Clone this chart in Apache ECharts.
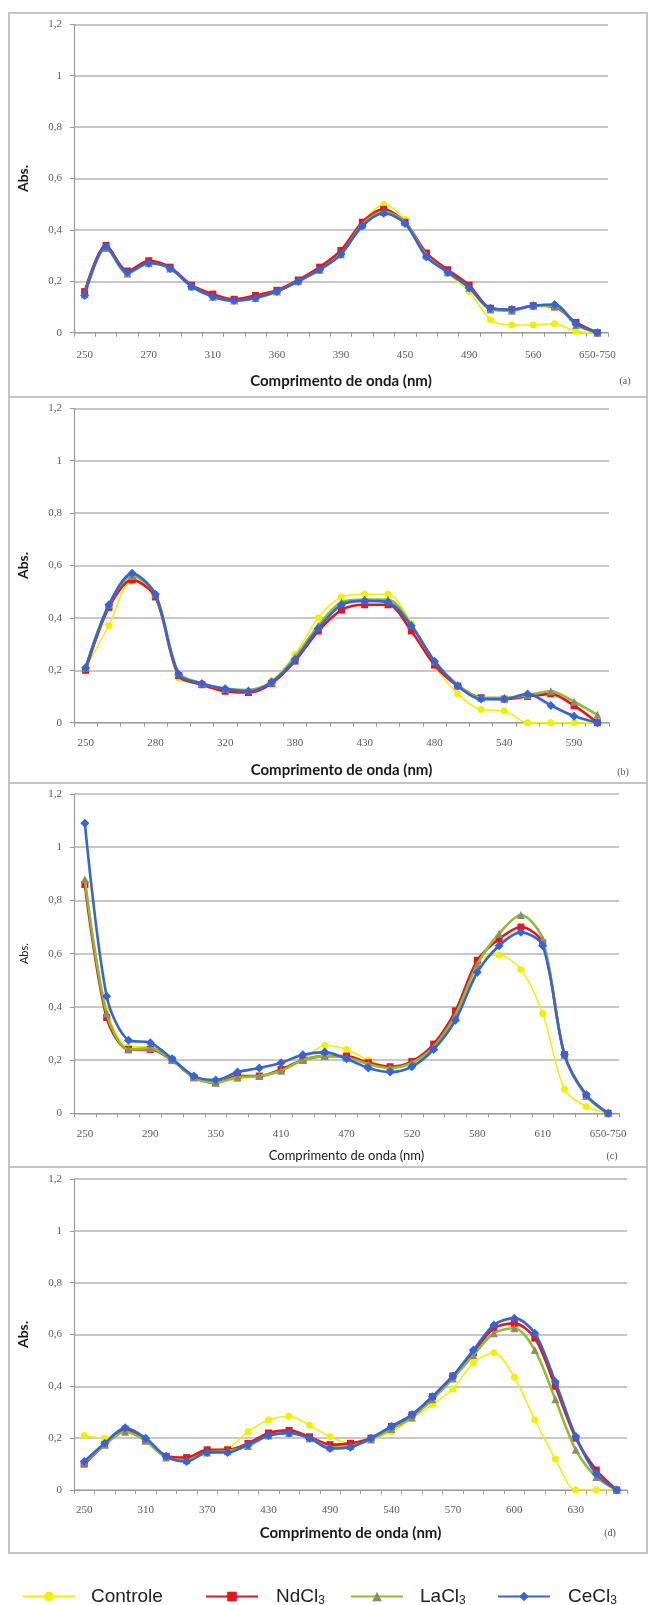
<!DOCTYPE html>
<html>
<head>
<meta charset="utf-8">
<script src="https://cdn.jsdelivr.net/npm/echarts@6/dist/echarts.min.js"></script>
<style>
  html, body { margin: 0; padding: 0; background: #ffffff; }
  #chart { width: 649px; height: 1605px; }
</style>
</head>
<body>
<div id="chart"></div>
<script>
// Absorbance spectra (Abs.) against wavelength (nm) for four treatments, panels (a)-(d)
const seriesNames = ['Controle', 'NdCl3', 'LaCl3', 'CeCl3'];

// Panel (a) - 25 wavelength steps, one label every third step
const ticksA = ['250', '270', '310', '360', '390', '450', '490', '560', '650-750'];
const ctrlA = [0.15, 0.33, 0.23, 0.27, 0.25, 0.18, 0.14, 0.13, 0.14, 0.16, 0.20, 0.25, 0.32, 0.43, 0.50, 0.44, 0.30, 0.23, 0.16, 0.05, 0.03, 0.03, 0.035, 0.005, 0.0];
const ndA   = [0.16, 0.34, 0.24, 0.28, 0.255, 0.185, 0.15, 0.13, 0.145, 0.165, 0.205, 0.255, 0.32, 0.43, 0.48, 0.43, 0.31, 0.245, 0.185, 0.095, 0.09, 0.105, 0.10, 0.04, 0.0];
const laA   = [0.15, 0.33, 0.23, 0.27, 0.25, 0.18, 0.14, 0.125, 0.135, 0.16, 0.20, 0.245, 0.305, 0.42, 0.47, 0.43, 0.30, 0.235, 0.175, 0.09, 0.085, 0.105, 0.105, 0.03, 0.0];
const ceA   = [0.145, 0.335, 0.235, 0.27, 0.25, 0.18, 0.14, 0.125, 0.135, 0.16, 0.20, 0.245, 0.305, 0.415, 0.465, 0.425, 0.295, 0.235, 0.175, 0.095, 0.09, 0.105, 0.11, 0.035, 0.0];

// Panel (b) - 23 wavelength steps
const ticksB = ['250', '280', '320', '380', '430', '480', '540', '590'];
const ctrlB = [0.21, 0.37, 0.54, 0.49, 0.17, 0.15, 0.13, 0.12, 0.16, 0.26, 0.40, 0.48, 0.49, 0.49, 0.38, 0.22, 0.11, 0.05, 0.045, 0.0, 0.0, 0.0, 0.0];
const ndB   = [0.20, 0.44, 0.545, 0.48, 0.18, 0.145, 0.12, 0.115, 0.15, 0.235, 0.35, 0.43, 0.45, 0.45, 0.35, 0.22, 0.14, 0.095, 0.09, 0.10, 0.11, 0.065, 0.0];
const laB   = [0.21, 0.45, 0.56, 0.49, 0.19, 0.15, 0.13, 0.125, 0.155, 0.25, 0.37, 0.46, 0.47, 0.47, 0.375, 0.235, 0.145, 0.095, 0.095, 0.105, 0.12, 0.08, 0.03];
const ceB   = [0.21, 0.45, 0.57, 0.49, 0.185, 0.15, 0.13, 0.12, 0.155, 0.24, 0.36, 0.45, 0.465, 0.46, 0.37, 0.235, 0.14, 0.09, 0.09, 0.11, 0.066, 0.025, 0.0];

// Panel (c) - 25 wavelength steps
const ticksC = ['250', '290', '350', '410', '470', '520', '580', '610', '650-750'];
const ctrlC = [0.87, 0.39, 0.25, 0.25, 0.20, 0.14, 0.12, 0.13, 0.14, 0.16, 0.20, 0.255, 0.24, 0.20, 0.175, 0.19, 0.25, 0.37, 0.57, 0.595, 0.54, 0.375, 0.09, 0.025, 0.0];
const ndC   = [0.86, 0.36, 0.24, 0.24, 0.20, 0.135, 0.115, 0.14, 0.14, 0.165, 0.20, 0.215, 0.215, 0.19, 0.175, 0.195, 0.26, 0.385, 0.575, 0.655, 0.70, 0.64, 0.22, 0.065, 0.0];
const laC   = [0.88, 0.375, 0.24, 0.245, 0.20, 0.135, 0.115, 0.135, 0.14, 0.16, 0.20, 0.215, 0.21, 0.185, 0.17, 0.19, 0.25, 0.37, 0.56, 0.675, 0.745, 0.655, 0.22, 0.065, 0.0];
const ceC   = [1.09, 0.44, 0.275, 0.265, 0.205, 0.14, 0.125, 0.155, 0.17, 0.19, 0.22, 0.23, 0.205, 0.17, 0.155, 0.175, 0.24, 0.35, 0.53, 0.63, 0.68, 0.63, 0.22, 0.07, 0.0];

// Panel (d) - 27 wavelength steps
const ticksD = ['250', '310', '370', '430', '490', '540', '570', '600', '630'];
const ctrlD = [0.21, 0.20, 0.23, 0.19, 0.13, 0.12, 0.15, 0.16, 0.225, 0.27, 0.285, 0.25, 0.205, 0.18, 0.195, 0.225, 0.275, 0.33, 0.39, 0.49, 0.53, 0.435, 0.27, 0.12, 0.0, 0.0, 0.0];
const ndD   = [0.10, 0.175, 0.235, 0.19, 0.13, 0.125, 0.155, 0.155, 0.18, 0.22, 0.23, 0.205, 0.175, 0.18, 0.20, 0.245, 0.29, 0.36, 0.44, 0.53, 0.624, 0.643, 0.586, 0.40, 0.20, 0.077, 0.0];
const laD   = [0.105, 0.175, 0.225, 0.19, 0.125, 0.115, 0.145, 0.15, 0.17, 0.21, 0.22, 0.20, 0.165, 0.17, 0.195, 0.235, 0.28, 0.35, 0.43, 0.52, 0.605, 0.624, 0.54, 0.35, 0.155, 0.05, 0.0];
const ceD   = [0.11, 0.18, 0.24, 0.20, 0.13, 0.11, 0.145, 0.145, 0.175, 0.21, 0.22, 0.20, 0.16, 0.165, 0.20, 0.245, 0.29, 0.36, 0.44, 0.54, 0.637, 0.663, 0.605, 0.418, 0.206, 0.062, 0.0];

// Layout of each panel: frame, plotting area and text placement
const panels = [
  { ticks: ticksA, values: [ctrlA, ndA, laA, ceA], tag: '(a)',
    frame: [9, 13, 638, 384], grid: { left: 74, top: 24.3, width: 534, height: 308.4 },
    labelMargin: 17, nameGap: 41, nameBold: true, tagPos: [625, 381] },
  { ticks: ticksB, values: [ctrlB, ndB, laB, ceB], tag: '(b)',
    frame: [9, 397, 638, 386], grid: { left: 74, top: 408.3, width: 535, height: 314.4 },
    labelMargin: 15, nameGap: 40, nameBold: true, tagPos: [623, 772] },
  { ticks: ticksC, values: [ctrlC, ndC, laC, ceC], tag: '(c)',
    frame: [9, 783, 638, 384], grid: { left: 74, top: 794, width: 545, height: 319.3 },
    labelMargin: 15, nameGap: 36, nameBold: false, tagPos: [612, 1156] },
  { ticks: ticksD, values: [ctrlD, ndD, laD, ceD], tag: '(d)',
    frame: [9, 1167, 638, 386], grid: { left: 74, top: 1179, width: 553, height: 311 },
    labelMargin: 15, nameGap: 36, nameBold: true, tagPos: [610, 1533] }
];

// Line and marker style for each treatment
const styles = [
  { color: '#f0f000', symbol: 'circle',   size: 7, width: 1.5, marker: '#f0f000' },
  { color: '#e8141c', symbol: 'rect',     size: 7, width: 2.6, marker: '#e8141c' },
  { color: '#8fbc34', symbol: 'triangle', size: 8, width: 2.6, marker: '#8e8c66' },
  { color: '#3464d6', symbol: 'diamond',  size: 9, width: 2.6, marker: '#3464d6' }
];

const tickFont = 'Liberation Serif';
const grids = [], xAxes = [], yAxes = [], series = [], graphics = [];

panels.forEach((p, k) => {
  grids.push(Object.assign({ containLabel: false }, p.grid));
  const n = p.values[0].length;
  const cats = Array.from({ length: n }, (_, i) => String(i));
  xAxes.push({
    type: 'category', gridIndex: k, data: cats, boundaryGap: true,
    name: 'Comprimento de onda (nm)', nameLocation: 'middle', nameGap: p.nameGap,
    nameTextStyle: { fontFamily: 'Lato', fontWeight: p.nameBold ? 'bold' : 'normal',
                     fontSize: p.nameBold ? 15 : 13, color: '#1a1a1a' },
    axisLine: { lineStyle: { color: '#9a9a9a', width: 1.2 } },
    axisTick: { show: true, interval: 0, length: 4, lineStyle: { color: '#9a9a9a' } },
    axisLabel: { interval: 0, margin: p.labelMargin, fontFamily: tickFont, fontSize: 11, color: '#595959',
                 formatter: (v, i) => (i % 3 === 0 && p.ticks[i / 3] !== undefined) ? p.ticks[i / 3] : '' },
    splitLine: { show: false }
  });
  yAxes.push({
    type: 'value', gridIndex: k, min: 0, max: 1.2, interval: 0.2,
    name: 'Abs.', nameLocation: 'middle', nameGap: 44, nameRotate: 90,
    nameTextStyle: { fontFamily: 'Lato', fontWeight: p.nameBold ? 'bold' : 'normal',
                     fontSize: p.nameBold ? 14 : 11, color: '#1a1a1a' },
    axisLine: { show: true, lineStyle: { color: '#9a9a9a', width: 1.2 } },
    axisTick: { show: true, length: 4, lineStyle: { color: '#9a9a9a' } },
    axisLabel: { margin: 12, fontFamily: tickFont, fontSize: 11, color: '#595959',
                 formatter: v => String(+v.toFixed(1)).replace('.', ',') },
    splitLine: { show: true, lineStyle: { color: '#b5b5b5', width: 1.6 } }
  });
  p.values.forEach((vals, s) => {
    const st = styles[s];
    series.push({
      type: 'line', name: seriesNames[s], xAxisIndex: k, yAxisIndex: k,
      data: vals, smooth: 0.3, symbol: st.symbol, symbolSize: st.size, showSymbol: true,
      lineStyle: { color: st.color, width: st.width },
      itemStyle: { color: st.marker, borderWidth: 0 },
      z: 2 + s, animation: false, emphasis: { disabled: true }
    });
  });
  graphics.push({
    type: 'rect', shape: { x: p.frame[0], y: p.frame[1], width: p.frame[2], height: p.frame[3] },
    style: { fill: 'none', stroke: '#c4c4c4', lineWidth: 2 }, z: 0
  });
  graphics.push({
    type: 'text', x: p.tagPos[0], y: p.tagPos[1],
    style: { text: p.tag, font: '10px "Liberation Serif"', fill: '#555555', textAlign: 'center', textVerticalAlign: 'middle' }
  });
});

// One legend block per treatment so each entry sits at its own spot
const legendLefts = [17, 200, 345, 492];
const legendPads = [11, 13, 12, 13];
const legends = seriesNames.map((nm, s) => ({
  data: [nm], left: legendLefts[s], top: 1582, itemWidth: 52, itemHeight: 12,
  selectedMode: false,
  textStyle: {
    fontFamily: 'Liberation Sans', fontSize: 19, color: '#222222', padding: [0, 0, 0, legendPads[s]],
    rich: {
      t: { fontFamily: 'Liberation Sans', fontSize: 19, color: '#222222' },
      s: { fontFamily: 'Liberation Sans', fontSize: 12, color: '#222222', padding: [9, 0, 0, 0] }
    }
  },
  formatter: name => name.endsWith('3') ? '{t|' + name.slice(0, -1) + '}{s|3}' : name
}));

const chart = echarts.init(document.getElementById('chart'), null, { renderer: 'canvas' });
chart.setOption({
  backgroundColor: '#ffffff',
  animation: false,
  grid: grids,
  xAxis: xAxes,
  yAxis: yAxes,
  legend: legends,
  series: series,
  graphic: graphics
});
</script>
</body>
</html>
